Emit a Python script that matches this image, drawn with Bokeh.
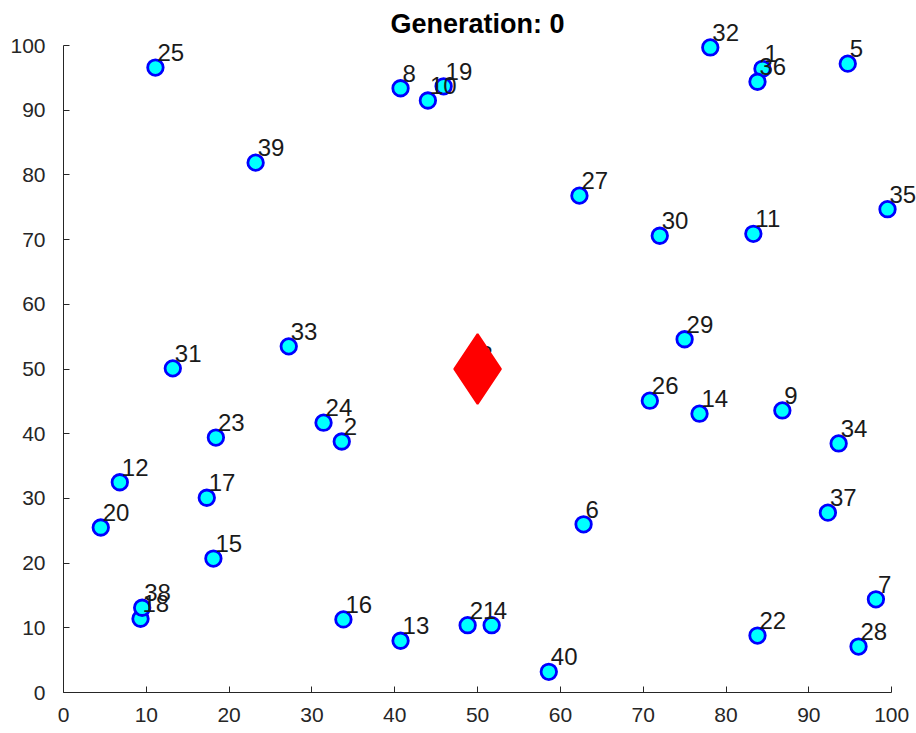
from bokeh.plotting import figure
from bokeh.models import ColumnDataSource, Range1d, FixedTicker, LabelSet, Label
from bokeh.core.properties import value
from bokeh.embed import file_html
from bokeh.resources import INLINE

# Node ids and coordinates
node_ids = [1, 2, 3, 4, 5, 6, 7, 8, 9, 10,
            11, 12, 13, 14, 15, 16, 17, 18, 19, 20,
            21, 22, 23, 24, 25, 26, 27, 28, 29, 30,
            31, 32, 33, 34, 35, 36, 37, 38, 39, 40]
node_x = [84.4, 33.6, 50.0, 51.7, 94.7, 62.8, 98.1, 40.7, 86.8, 44.0,
          83.3, 6.8, 40.7, 76.8, 18.1, 33.8, 17.3, 9.3, 45.9, 4.5,
          48.8, 83.8, 18.4, 31.4, 11.1, 70.8, 62.3, 96.0, 75.0, 72.0,
          13.2, 78.1, 27.2, 93.6, 99.5, 83.8, 92.3, 9.5, 23.2, 58.6]
node_y = [96.4, 38.8, 50.0, 10.4, 97.2, 26.0, 14.4, 93.4, 43.6, 91.5,
          70.9, 32.5, 8.0, 43.1, 20.7, 11.3, 30.1, 11.4, 93.7, 25.5,
          10.4, 8.8, 39.4, 41.7, 96.6, 45.1, 76.8, 7.1, 54.6, 70.6,
          50.1, 99.7, 53.5, 38.5, 74.7, 94.4, 27.8, 13.1, 81.9, 3.2]
depot_id = 3
title_text = "Generation: 0"
tick_values = [0, 10, 20, 30, 40, 50, 60, 70, 80, 90, 100]
axis_min, axis_max = 0, 100

src = ColumnDataSource(dict(x=node_x, y=node_y, label=[str(i) for i in node_ids]))
di = node_ids.index(depot_id)
depot_src = ColumnDataSource(dict(x=[node_x[di]], y=[node_y[di]]))

# headroom beyond the axes so the title and outer labels are not clipped
y_top = axis_max + 6.96
x_right = axis_max + 3.0

p = figure(width=916, height=733, output_backend="svg", toolbar_location=None,
           x_range=Range1d(axis_min, x_right), y_range=Range1d(axis_min, y_top),
           min_border_left=63, min_border_right=0, min_border_bottom=41,
           min_border_top=0)

p.grid.visible = False
p.outline_line_color = None
p.background_fill_color = "white"
p.border_fill_color = "white"

for ax in (p.xaxis, p.yaxis):
    ax.ticker = FixedTicker(ticks=tick_values)
    ax.bounds = (axis_min, axis_max)
    ax.minor_tick_line_color = None
    ax.major_tick_in = 6
    ax.major_tick_out = 0
    ax.axis_line_color = "#262626"
    ax.major_tick_line_color = "#262626"
    ax.major_label_text_color = "#262626"
    ax.major_label_text_font = "Liberation Sans"
    ax.major_label_text_font_size = "21px"
p.xaxis.major_label_standoff = 15
p.yaxis.major_label_standoff = 18

p.scatter("x", "y", source=src, marker="circle", size=15.5,
          fill_color="#00FFFF", line_color="#0000FF", line_width=2.8)

labels = LabelSet(x="x", y="y", text="label", source=src, x_offset=2, y_offset=15,
                  text_font=value("Liberation Sans"), text_font_size=value("24px"),
                  text_color="#1a1a1a", text_baseline="middle", text_align="left")
p.add_layout(labels)

depot = p.scatter("x", "y", source=depot_src, marker="diamond", size=70,
                  fill_color="#FF0000", line_color="#FF0000", line_width=2)
depot.level = "overlay"

title = Label(x=(axis_min + axis_max) / 2, y=axis_max + 3.4, text=title_text,
              text_font="Liberation Sans", text_font_size="27px",
              text_font_style="bold", text_color="#000000",
              text_align="center", text_baseline="middle")
p.add_layout(title)

open("out.html", "w").write(file_html(p, INLINE))
